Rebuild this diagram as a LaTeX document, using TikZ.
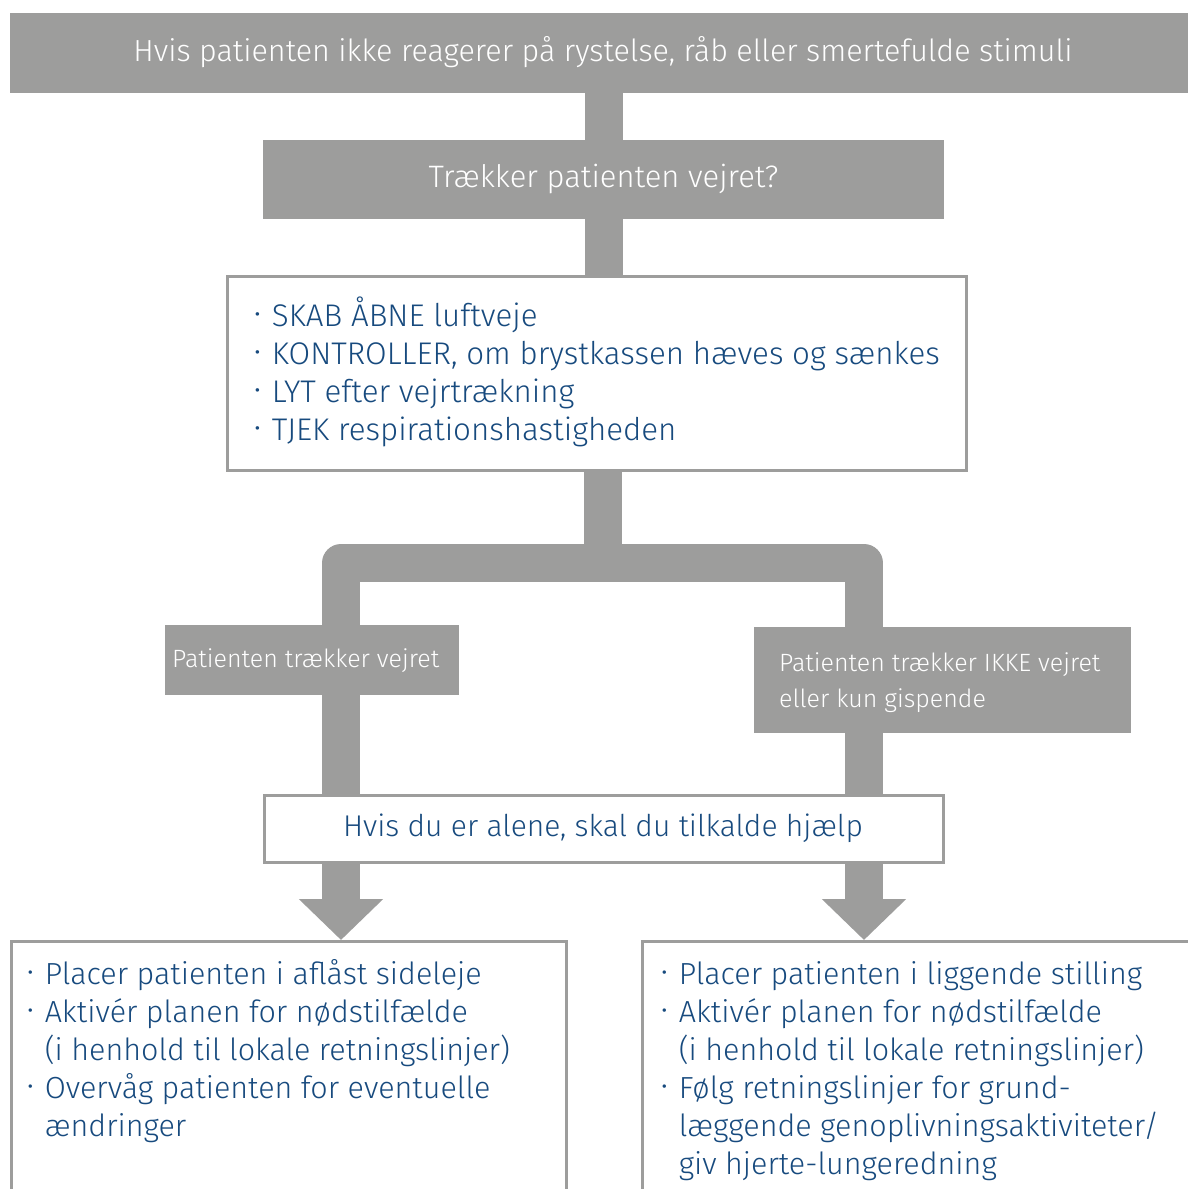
\documentclass[tikz,border=0pt]{standalone}
\usepackage{fontspec}
\setmainfont{Fira Sans Light}
\usetikzlibrary{arrows.meta}
\definecolor{boxgray}{HTML}{9D9D9C}
\definecolor{txtblue}{HTML}{174A7E}
\newcommand{\bul}{\raisebox{0.12em}{\scalebox{0.75}{•}}}
\begin{document}
\begin{tikzpicture}[x=1pt,y=-1pt,
  graybox/.style={fill=boxgray,draw=none,inner sep=0pt,text=white},
  whitebox/.style={fill=white,draw=boxgray,line width=3pt,inner sep=0pt},
  stem/.style={draw=boxgray,line width=38pt,line join=round},
  bodytext/.style={text=txtblue,inner sep=0pt,align=left}]
\useasboundingbox (0,0) rectangle (1188,1189);
% top bar
\node[graybox,minimum width=1178pt,minimum height=80pt] (top) at (599,53) {};
\node[text=white,inner sep=0pt,font=\fontsize{30.5}{34}\selectfont] (toptxt) at (603,52) {Hvis patienten ikke reagerer på rystelse, råb eller smertefulde stimuli};
% box 2
\node[graybox,minimum width=681pt,minimum height=79pt,font=\fontsize{31}{34}\selectfont] (q) at (603.5,179.5) {Trækker patienten vejret?};
% box 3
\node[whitebox,minimum width=739pt,minimum height=194pt] (check) at (596.5,373) {};
\node[bodytext,anchor=west,font=\fontsize{31.3}{38}\selectfont] (checktxt) at (254,374) {%
\begin{tabular}{@{}l@{\hspace{11pt}}l@{}}
\bul & SKAB ÅBNE luftveje\\
\bul & KONTROLLER, om brystkassen hæves og sænkes\\
\bul & LYT efter vejrtrækning\\
\bul & TJEK respirationshastigheden
\end{tabular}};
% stems
\draw[stem] (top.south -| q.north) -- (q.north);
\draw[stem] (q.south) -- (check.north -| q.south);
% labels
\node[graybox,minimum width=294pt,minimum height=70pt] (lab1) at (312,660) {};
\node[text=white,inner sep=0pt,anchor=west,font=\fontsize{25}{36}\selectfont] (lab1txt) at (172,661) {Patienten trækker vejret};
\node[graybox,minimum width=377pt,minimum height=106pt] (lab2) at (942.5,680) {};
\node[text=white,inner sep=0pt,anchor=west,align=left,font=\fontsize{25}{36}\selectfont] (lab2txt) at (779,683) {Patienten trækker IKKE vejret\\eller kun gispende};
% split
\coordinate (jm) at (603,563);
\coordinate (jl) at (341,563);
\coordinate (jr) at (864,563);
\draw[stem] (check.south -| jm) -- (jm);
\draw[stem] (lab1.north -| jl) -- (jl) -- (jr) -- (lab2.north -| jr);
% alone box
\node[whitebox,minimum width=679pt,minimum height=67pt] (alone) at (603.5,828.5) {};
\draw[stem] (lab1.south -| jl) -- (alone.north -| jl);
\draw[stem] (lab2.south -| jr) -- (alone.north -| jr);
\node[text=txtblue,inner sep=0pt,font=\fontsize{30}{34}\selectfont] (alonetxt) at (603,828) {Hvis du er alene, skal du tilkalde hjælp};
% bottom boxes
\begin{scope}
\clip (0,0) rectangle (1188,1189);
\node[whitebox,minimum width=555pt,minimum height=300pt,anchor=north west] (bl) at (10,940) {};
\node[whitebox,minimum width=600pt,minimum height=300pt,anchor=north west] (br) at (641,940) {};
\end{scope}
\draw[stem,-{Triangle[width=82pt,length=41pt]}] (alone.south -| jl) -- (bl.north -| jl);
\draw[stem,-{Triangle[width=82pt,length=41pt]}] (alone.south -| jr) -- (br.north -| jr);
\node[bodytext,anchor=west,font=\fontsize{30.5}{38}\selectfont] (bltxt) at (27,1053) {%
\begin{tabular}{@{}l@{\hspace{11pt}}l@{}}
\bul & Placer patienten i aflåst sideleje\\
\bul & Aktivér planen for nødstilfælde\\
 & (i henhold til lokale retningslinjer)\\
\bul & Overvåg patienten for eventuelle\\
 & ændringer
\end{tabular}};
\node[bodytext,anchor=west,font=\fontsize{30.5}{38}\selectfont] (brtxt) at (661,1072) {%
\begin{tabular}{@{}l@{\hspace{11pt}}l@{}}
\bul & Placer patienten i liggende stilling\\
\bul & Aktivér planen for nødstilfælde\\
 & (i henhold til lokale retningslinjer)\\
\bul & Følg retningslinjer for grund-\\
 & læggende genoplivningsaktiviteter/\\
 & giv hjerte-lungeredning
\end{tabular}};
\end{tikzpicture}
\end{document}
